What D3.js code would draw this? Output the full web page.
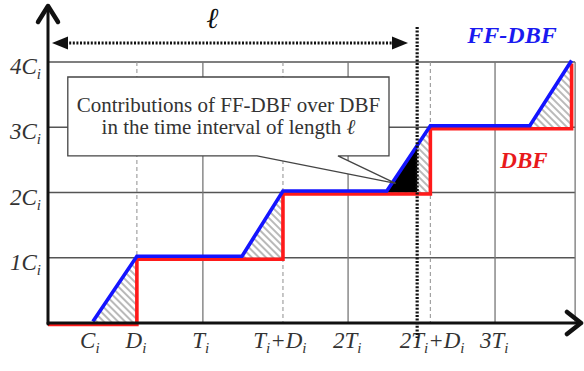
<!DOCTYPE html>
<html>
<head>
<meta charset="utf-8">
<script src="https://cdn.jsdelivr.net/npm/d3@7"></script>
<style>
  html, body { margin: 0; padding: 0; background: #fff; }
  svg { display: block; }
  text { font-family: "Liberation Serif", "DejaVu Serif", serif; }
</style>
</head>
<body>
<svg id="chart" width="584" height="371"></svg>
<script>
// ---------------- data ----------------
// x-axis tick labels and positions (in the schematic's time units)
const xTickLabels = ["C_i", "D_i", "T_i", "T_i+D_i", "2T_i", "2T_i+D_i", "3T_i"];
const xTickValues = [0.95, 2.0, 3.47, 5.27, 6.8, 8.73, 10.14];
// vertical grid lines: solid at periods, dashed at deadlines
const solidGrid = [3.52, 6.82, 10.16, 11.98];
const dashedGrid = [2.02, 5.34, 8.69];
// y-axis ticks (multiples of C_i)
const yTickValues = [1, 2, 3, 4];
const yTickLabels = ["1C_i", "2C_i", "3C_i", "4C_i"];
// DBF steps: deadlines at which demand jumps by one C_i
const dbfDeadlines = [2.02, 5.34, 8.69, 11.9];
// FF-DBF: the ramp before every deadline starts here
const ffRampStarts = [1.02, 4.41, 7.70, 10.95];
// interval length l
const ell = 8.39;

// ---------------- layout ----------------
const svg = d3.select("#chart");
const x = d3.scaleLinear().domain([0, 12]).range([48, 576]);
const y = d3.scaleLinear().domain([0, 4]).range([323, 62]);

// ---------------- defs ----------------
const defs = svg.append("defs");
const pat = defs.append("pattern").attr("id", "hatch")
  .attr("patternUnits", "userSpaceOnUse").attr("width", 5).attr("height", 5)
  .attr("patternTransform", "rotate(-45)");
pat.append("rect").attr("width", 5).attr("height", 5).attr("fill", "#fff");
pat.append("line").attr("x1", 1).attr("y1", 0).attr("x2", 1).attr("y2", 5)
  .attr("stroke", "#a8a8a8").attr("stroke-width", 1.6);

// ---------------- grid ----------------
const grid = svg.append("g");
grid.selectAll("line.h").data(yTickValues).join("line")
  .attr("x1", x(0)).attr("x2", x(11.98))
  .attr("y1", d => y(d)).attr("y2", d => y(d))
  .attr("stroke", "#555").attr("stroke-width", 1.5);
grid.selectAll("line.vs").data(solidGrid).join("line")
  .attr("x1", d => x(d)).attr("x2", d => x(d))
  .attr("y1", y(4)).attr("y2", y(0))
  .attr("stroke", "#777").attr("stroke-width", 1.3);
grid.selectAll("line.vd").data(dashedGrid).join("line")
  .attr("x1", d => x(d)).attr("x2", d => x(d))
  .attr("y1", y(4)).attr("y2", y(0))
  .attr("stroke", "#999").attr("stroke-width", 1.1)
  .attr("stroke-dasharray", "4,3");

// ---------------- hatched contributions ----------------
const tri = dbfDeadlines.map((dl, k) => [
  [ffRampStarts[k], k], [dl, k + 1], [dl, k]
]);
svg.append("g").selectAll("path").data(tri).join("path")
  .attr("d", d => "M" + d.map(p => [x(p[0]), y(p[1])].join(",")).join("L") + "Z")
  .attr("fill", "url(#hatch)");

// black triangle: FF-DBF contribution inside the interval l
{
  const k = 2;
  const x0 = ffRampStarts[k], x1 = dbfDeadlines[k];
  const yl = k + (ell - x0) / (x1 - x0);
  const pts = [[x0, k], [ell, yl], [ell, k]];
  svg.append("path")
    .attr("d", "M" + pts.map(p => [x(p[0]), y(p[1])].join(",")).join("L") + "Z")
    .attr("fill", "#000");
}

// ---------------- DBF (red) and FF-DBF (blue) ----------------
const dbfPts = [[0, 0]];
dbfDeadlines.forEach((dl, k) => { dbfPts.push([dl, k]); dbfPts.push([dl, k + 1]); });
const ffPts = [];
ffRampStarts.forEach((s, k) => { ffPts.push([s, k]); ffPts.push([dbfDeadlines[k], k + 1]); });

const line = d3.line().x(d => x(d[0])).y(d => y(d[1]));
svg.append("path").datum(dbfPts).attr("d", line)
  .attr("transform", "translate(0,1.5)")
  .attr("fill", "none").attr("stroke", "#ff1a1a").attr("stroke-width", 3.6)
  .attr("stroke-linejoin", "miter");
svg.append("path").datum(ffPts).attr("d", line)
  .attr("transform", "translate(0,-1.5)")
  .attr("fill", "none").attr("stroke", "#1414ff").attr("stroke-width", 3.6)
  .attr("stroke-linejoin", "miter");

// ---------------- axes ----------------
const axes = svg.append("g").attr("stroke", "#111").attr("fill", "none")
  .attr("stroke-linecap", "round").attr("stroke-linejoin", "round");
axes.append("line").attr("x1", x(0)).attr("x2", x(0)).attr("y1", y(0) + 1).attr("y2", 6)
  .attr("stroke-width", 3);
axes.append("line").attr("x1", x(0)).attr("x2", 581).attr("y1", y(0)).attr("y2", y(0))
  .attr("stroke-width", 3);
axes.append("path").attr("d", `M${x(0) - 10},22 L${x(0)},6 L${x(0) + 10},22`)
  .attr("stroke-width", 4.5);
axes.append("path").attr("d", `M567,${y(0) - 11} L581,${y(0)} L567,${y(0) + 11}`)
  .attr("stroke-width", 4.5);

// subscript label helper
function subLabel(sel, str, size, subSize) {
  const parts = str.split(/_([a-z])/);
  parts.forEach((p, i) => {
    if (p === "") return;
    const isSub = i % 2 === 1;
    sel.append("tspan").text(p)
      .attr("font-size", isSub ? subSize : size)
      .attr("dy", isSub ? 5 : (i > 1 ? -5 : 0));
  });
}

// x labels
svg.append("g").selectAll("text").data(xTickValues).join("text")
  .attr("x", d => x(d)).attr("y", y(0) + 25)
  .attr("text-anchor", "middle").attr("font-style", "italic")
  .attr("fill", "#333")
  .each(function (d, i) { subLabel(d3.select(this), xTickLabels[i], 23, 15); });

// y labels
svg.append("g").selectAll("text").data(yTickValues).join("text")
  .attr("x", 41).attr("y", d => y(d) + 12)
  .attr("text-anchor", "end").attr("font-style", "italic")
  .attr("fill", "#333")
  .each(function (d, i) { subLabel(d3.select(this), yTickLabels[i], 23, 15); });

// ---------------- series labels ----------------
svg.append("text").attr("x", 512).attr("y", 43).attr("text-anchor", "middle")
  .attr("font-size", 24).attr("font-weight", "bold").attr("font-style", "italic")
  .attr("fill", "#1a1af0").text("FF-DBF");
svg.append("text").attr("x", 524).attr("y", 168).attr("text-anchor", "middle")
  .attr("font-size", 23).attr("font-weight", "bold").attr("font-style", "italic")
  .attr("fill", "#e8191b").text("DBF");

// ---------------- interval l ----------------
svg.append("line").attr("x1", x(ell)).attr("x2", x(ell)).attr("y1", 27).attr("y2", 338)
  .attr("stroke", "#111").attr("stroke-width", 3.2).attr("stroke-dasharray", "2,1.6");
svg.append("line").attr("x1", 62).attr("x2", 396).attr("y1", 43).attr("y2", 43)
  .attr("stroke", "#111").attr("stroke-width", 3.2).attr("stroke-dasharray", "2,1.6");
svg.append("path").attr("d", "M52,43 L68,36.5 L68,49.5 Z").attr("fill", "#111");
svg.append("path").attr("d", "M408,43 L392,36.5 L392,49.5 Z").attr("fill", "#111");
svg.append("text").attr("x", 213).attr("y", 28).attr("text-anchor", "middle")
  .attr("font-size", 29).attr("font-weight", "bold").attr("font-style", "italic")
  .attr("fill", "#111").text("ℓ");

// ---------------- callout ----------------
{
  const bx0 = x(0.45), bx1 = x(7.75), by0 = y(3.77), by1 = y(2.56);
  const px0 = x(4.75), px1 = x(6.59), tipX = x(7.9), tipY = y(2.14);
  svg.append("path")
    .attr("d", `M${bx0},${by0} L${bx1},${by0} L${bx1},${by1} L${px1},${by1} L${tipX},${tipY} L${px0},${by1} L${bx0},${by1} Z`)
    .attr("fill", "#fff").attr("stroke", "#444").attr("stroke-width", 1.3);
  const cx = (bx0 + bx1) / 2;
  svg.append("text").attr("x", cx).attr("y", 112).attr("text-anchor", "middle")
    .attr("font-size", 21).attr("fill", "#333").text("Contributions of FF-DBF over DBF");
  const t2 = svg.append("text").attr("x", cx).attr("y", 134).attr("text-anchor", "middle")
    .attr("font-size", 21).attr("fill", "#333");
  t2.append("tspan").text("in the time interval of length ");
  t2.append("tspan").attr("font-style", "italic").text("ℓ");
}
</script>
</body>
</html>
